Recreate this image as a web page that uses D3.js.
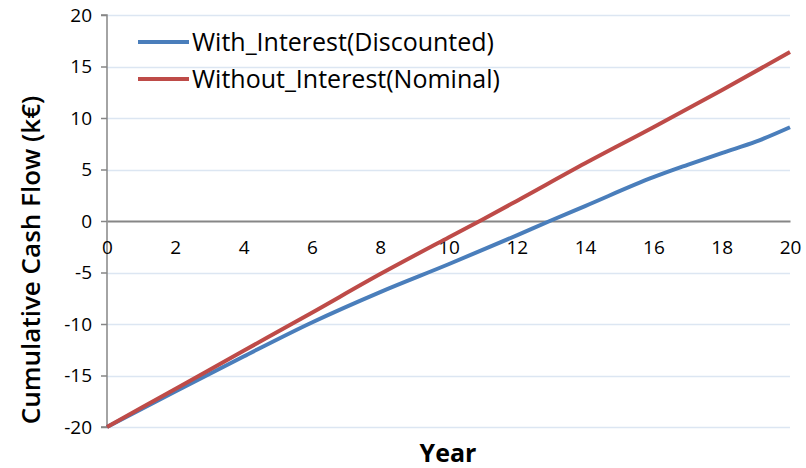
<!DOCTYPE html>
<html>
<head>
<meta charset="utf-8">
<script src="https://cdn.jsdelivr.net/npm/d3@7"></script>
<style>
  html, body { margin: 0; padding: 0; background: #fff; }
  svg { display: block; font-family: "Open Sans", "Liberation Sans", sans-serif; }
</style>
</head>
<body>
<svg id="chart" width="806" height="468"></svg>
<script>
const yearsWith = [0, 2, 4, 6, 8, 10, 12, 13, 14, 16, 17, 18, 19, 20];
const withInterest = [-20, -16.55, -13.15, -9.85, -6.9, -4.2, -1.4, 0.05, 1.45, 4.25, 5.45, 6.6, 7.7, 9.1];
const yearsWithout = [0, 2, 4, 6, 8, 10, 11, 12, 14, 16, 18, 20];
const withoutInterest = [-20, -16.3, -12.6, -8.9, -5.15, -1.6, 0.15, 1.95, 5.6, 9.1, 12.7, 16.4];
const seriesNames = ["With_Interest(Discounted)", "Without_Interest(Nominal)"];
const xTicks = [0, 2, 4, 6, 8, 10, 12, 14, 16, 18, 20];
const yTicks = [-20, -15, -10, -5, 0, 5, 10, 15, 20];
const colors = ["#4a7ebb", "#be4b48"];

const svg = d3.select("#chart");
const x = d3.scaleLinear().domain([0, 20]).range([107, 790]);
const y = d3.scaleLinear().domain([-20, 20]).range([427, 15]);

// gridlines
svg.append("g").selectAll("line").data(yTicks.filter(d => d !== 0)).join("line")
  .attr("x1", x(0)).attr("x2", x(20))
  .attr("y1", d => Math.round(y(d)) + 0.5).attr("y2", d => Math.round(y(d)) + 0.5)
  .attr("stroke", "#dce6f2").attr("stroke-width", 1.5);

// y axis
const yAxis = svg.append("g").attr("transform", `translate(${x(0)},0)`)
  .call(d3.axisLeft(y).tickValues(yTicks).tickSize(6).tickPadding(9).tickFormat(d => String(d)));
yAxis.select(".domain").attr("stroke", "#868686").attr("stroke-width", 1.5).attr("d", `M-6,${y(20)}H0V${y(-20)}H-6`);
yAxis.selectAll(".tick line").attr("stroke", "#868686").attr("stroke-width", 1.5);
yAxis.selectAll(".tick text").attr("font-size", 19).attr("fill", "#000").attr("font-family", "Open Sans, sans-serif");

// x axis at zero
const xAxis = svg.append("g").attr("transform", `translate(0,${y(0)})`)
  .call(d3.axisBottom(x).tickValues(xTicks).tickSize(0).tickPadding(20).tickFormat(d => String(d)));
xAxis.select(".domain").attr("stroke", "#868686").attr("stroke-width", 2);
xAxis.selectAll(".tick text").attr("font-size", 19).attr("fill", "#000").attr("font-family", "Open Sans, sans-serif");

// lines
const series = [
  { xs: yearsWith, ys: withInterest },
  { xs: yearsWithout, ys: withoutInterest }
];
svg.append("g").selectAll("path").data(series).join("path")
  .attr("d", s => d3.line().curve(d3.curveMonotoneX).x((d, i) => x(s.xs[i])).y(d => y(d))(s.ys))
  .attr("fill", "none")
  .attr("stroke", (d, i) => colors[i])
  .attr("stroke-width", 4)
  .attr("stroke-linejoin", "round");

// legend
const leg = svg.append("g");
seriesNames.forEach((name, i) => {
  const ly = 42 + i * 37;
  leg.append("line").attr("x1", 138).attr("x2", 189).attr("y1", ly).attr("y2", ly)
    .attr("stroke", colors[i]).attr("stroke-width", 4);
  leg.append("text").attr("x", 192).attr("y", ly).attr("dy", "0.35em")
    .attr("font-size", 25).attr("fill", "#000").text(name);
});

// axis titles
svg.append("text").attr("transform", "translate(31,260) rotate(-90)")
  .attr("dy", "0.35em")
  .attr("text-anchor", "middle").attr("font-size", 26).attr("font-weight", 600)
  .attr("fill", "#000").text("Cumulative Cash Flow (k€)");
svg.append("text").attr("x", 448).attr("y", 462)
  .attr("text-anchor", "middle").attr("font-size", 25).attr("font-weight", 700)
  .attr("fill", "#000").text("Year");
</script>
</body>
</html>
